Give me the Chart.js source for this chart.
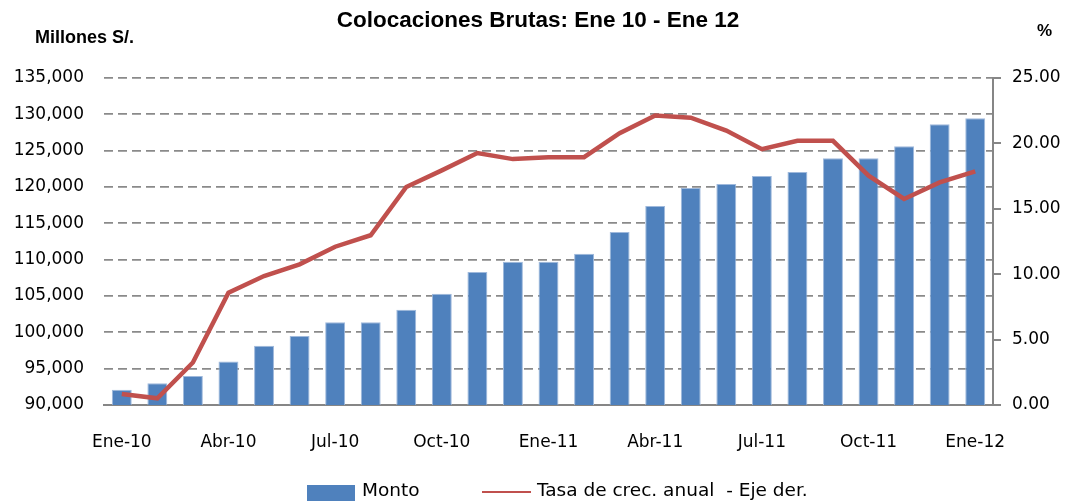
<!DOCTYPE html>
<html>
<head>
<meta charset="utf-8">
<script src="https://cdn.jsdelivr.net/npm/chart.js@4.4.1/dist/chart.umd.min.js"></script>
<style>
  html, body { margin: 0; padding: 0; background: #fff; }
  #wrap { position: relative; width: 1070px; height: 501px; overflow: hidden; font-family: "DejaVu Sans", sans-serif; }
  #chart { position: absolute; left: 0; top: 0; }
  .txt { position: absolute; color: #000; white-space: nowrap; }
  #title { left: 0; width: 1076px; top: 7px; text-align: center; font: bold 22.5px "Liberation Sans Narrow", sans-serif; }
  #unitL { left: 35px; top: 27px; font: bold 18px "Liberation Sans Narrow", sans-serif; }
  #unitR { left: 1037px; top: 21px; font: bold 17px "Liberation Sans Narrow", sans-serif; }
  .legend { top: 479px; font-size: 18.5px; }
  .sw { position: absolute; }
</style>
</head>
<body>
<div id="wrap">
  <canvas id="chart" width="1070" height="501"></canvas>
  <div class="txt" id="title">Colocaciones Brutas: Ene 10 - Ene 12</div>
  <div class="txt" id="unitL">Millones S/.</div>
  <div class="txt" id="unitR">%</div>
  <div class="sw" style="left:307px; top:485px; width:48px; height:16px; background:#4F81BD;"></div>
  <div class="txt legend" style="left:362px;">Monto</div>
  <div class="sw" style="left:482px; top:491px; width:49px; height:2px; background:#C0504D;"></div>
  <div class="txt legend" style="left:537px;">Tasa de crec. anual&nbsp; - Eje der.</div>
</div>
<script>
// months Ene-10 .. Ene-12
const months = ["Ene-10","Feb-10","Mar-10","Abr-10","May-10","Jun-10","Jul-10","Ago-10","Sep-10","Oct-10","Nov-10","Dic-10",
                "Ene-11","Feb-11","Mar-11","Abr-11","May-11","Jun-11","Jul-11","Ago-11","Sep-11","Oct-11","Nov-11","Dic-11",
                "Ene-12"];
// Monto (millones S/.)
const monto = [92100, 93000, 94000, 96000, 98150, 99500, 101400, 101400, 103100, 105300, 108300, 109700,
               109700, 110800, 113800, 117400, 119850, 120400, 121500, 122050, 123950, 123950, 125600, 128650,
               129450];
// Tasa de crecimiento anual (%)
const tasa = [0.84, 0.51, 3.25, 8.59, 9.86, 10.75, 12.10, 12.98, 16.67, 17.94, 19.26, 18.80,
              18.95, 18.95, 20.78, 22.13, 21.97, 20.98, 19.56, 20.20, 20.20, 17.53, 15.75, 17.02,
              17.86];

const tickFont = { family: "DejaVu Sans", size: 17 };

new Chart(document.getElementById("chart"), {
    data: {
        labels: months,
        datasets: [
            {
                type: "line",
                label: "Tasa de crec. anual  - Eje der.",
                data: tasa,
                yAxisID: "y2",
                borderColor: "#C0504D",
                borderWidth: 4.5,
                pointRadius: 0,
                tension: 0,
                order: 0
            },
            {
                type: "bar",
                label: "Monto",
                data: monto,
                yAxisID: "y",
                backgroundColor: "#4F81BD",
                borderColor: "#9fb9dc",
                borderWidth: 1,
                categoryPercentage: 1,
                barPercentage: 0.56,
                order: 1
            }
        ]
    },
    options: {
        responsive: false,
        animation: false,
        layout: { padding: { top: 78, left: 0, right: 0, bottom: 0 } },
        plugins: { legend: { display: false }, tooltip: { enabled: false }, title: { display: false } },
        scales: {
            x: {
                grid: { display: false, drawTicks: false },
                border: { display: true, color: "#868686", width: 2 },
                ticks: {
                    autoSkip: false, maxRotation: 0, color: "#000", font: tickFont, padding: 27,
                    callback: (v, i) => i % 3 === 0 ? months[i] : ""
                },
                afterFit: (s) => { s.height = 96; }
            },
            y: {
                position: "left",
                min: 90000, max: 135000,
                grid: { color: "#8a8a8a", lineWidth: 1.8, drawTicks: false },
                border: { display: false, dash: [9, 5] },
                ticks: {
                    stepSize: 5000, color: "#000", font: tickFont, padding: 20,
                    callback: (v) => v.toLocaleString("en-US")
                },
                afterFit: (s) => { s.width = 104; }
            },
            y2: {
                position: "right",
                min: 0, max: 25,
                grid: { drawOnChartArea: false, drawTicks: true, tickLength: 8, color: "#868686", lineWidth: 2 },
                border: { display: true, color: "#868686", width: 2 },
                ticks: {
                    stepSize: 5, color: "#000", font: tickFont, padding: 11,
                    callback: (v) => v.toFixed(2)
                },
                afterFit: (s) => { s.width = 77; }
            }
        }
    }
});
</script>
</body>
</html>
